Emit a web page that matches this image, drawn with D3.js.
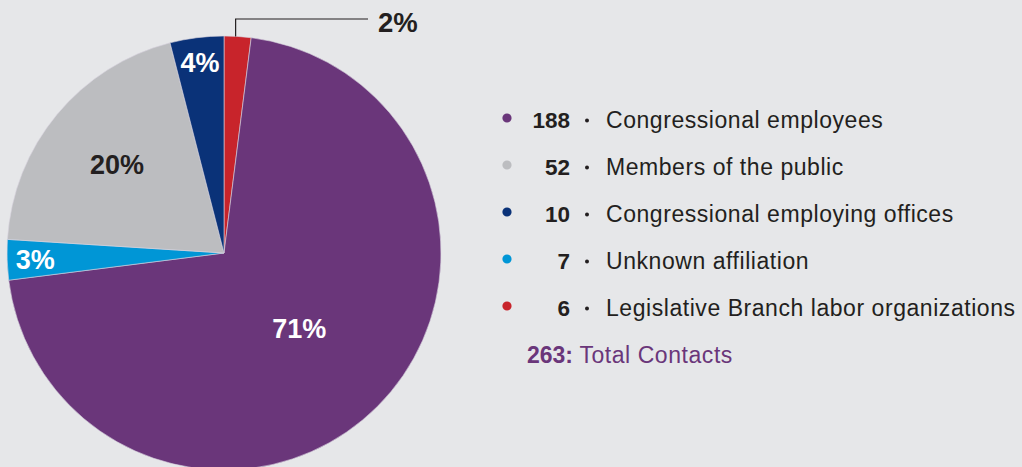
<!DOCTYPE html>
<html>
<head>
<meta charset="utf-8">
<script src="https://cdn.jsdelivr.net/npm/d3@7"></script>
<style>
  html, body { margin: 0; padding: 0; background: #e6e7e9; }
  svg { display: block; font-family: "Liberation Sans", Arial, sans-serif; }
</style>
</head>
<body>
<svg id="chart"></svg>
<script>
// legend order
const categories = [
  "Congressional employees",
  "Members of the public",
  "Congressional employing offices",
  "Unknown affiliation",
  "Legislative Branch labor organizations",
];
const values = [188, 52, 10, 7, 6];
// rounded shares as printed on the slices
const percents = [71, 20, 4, 3, 2];
const colors = ["#6a367a", "#bcbdc0", "#0a3278", "#0096d6", "#c8242b"];
// order of slices clockwise from 12 o'clock
const pieOrder = [4, 0, 3, 1, 2];
const totalLabel = "Total Contacts";

const width = 1022;
const height = 467;
const total = d3.sum(values);

const svg = d3.select("#chart").attr("width", width).attr("height", height);

const cx = 224, cy = 253, radius = 217;

const g = svg.append("g").attr("transform", `translate(${cx}, ${cy})`);

const infos = pieOrder.map((i) => ({
  idx: i,
  label: categories[i],
  pct: percents[i],
  color: colors[i],
}));

const pieGenerator = d3.pie().sort(null).value((d) => d.pct);
const arcGenerator = d3.arc().innerRadius(0).outerRadius(radius);
const arcs = pieGenerator(infos);

g.selectAll("path")
  .data(arcs)
  .enter()
  .append("path")
  .attr("d", arcGenerator)
  .style("fill", (d) => d.data.color)
  .style("stroke", "#d9d3df")
  .style("stroke-width", 0.6);

// how far out each percent label sits (fraction of radius), by legend index
const labelPos = { 0: 0.49, 1: 0.64, 2: 0.885, 3: 0.87 };

arcs.forEach((d) => {
  const mid = (d.startAngle + d.endAngle) / 2;
  if (labelPos[d.data.idx] !== undefined) {
    const r = radius * labelPos[d.data.idx];
    g.append("text")
      .attr("x", Math.sin(mid) * r)
      .attr("y", -Math.cos(mid) * r)
      .attr("dy", "0.36em")
      .attr("text-anchor", "middle")
      .style("font-size", "27px")
      .style("font-weight", "bold")
      .style("fill", d.data.idx === 1 ? "#231f20" : "#ffffff")
      .text(d.data.pct + "%");
  } else {
    // small slice: leader line to an outside label
    const x0 = Math.sin(mid) * radius - 2;
    const y0 = -Math.cos(mid) * radius;
    const yTop = -cy + 19;
    const xEnd = 368 - cx;
    g.append("path")
      .attr("d", `M${x0},${y0}V${yTop}H${xEnd}`)
      .style("fill", "none")
      .style("stroke", "#231f20")
      .style("stroke-width", 1.2);
    g.append("text")
      .attr("x", xEnd + 10)
      .attr("y", yTop + 13)
      .style("font-size", "27.5px")
      .style("font-weight", "bold")
      .style("fill", "#231f20")
      .text(d.data.pct + "%");
  }
});

// legend
const rowY = d3.scalePoint()
  .domain(d3.range(categories.length + 1))
  .range([128, 128 + 47 * categories.length]);

const legend = svg.append("g");
const rows = legend.selectAll("g.row")
  .data(categories.map((c, i) => ({ c, v: values[i], col: colors[i], i })))
  .enter()
  .append("g")
  .attr("class", "row")
  .attr("transform", (d) => `translate(0, ${rowY(d.i)})`);

rows.append("circle")
  .attr("cx", 507)
  .attr("cy", -10)
  .attr("r", 4.6)
  .style("fill", (d) => d.col);

rows.append("text")
  .attr("x", 570)
  .attr("text-anchor", "end")
  .style("font-size", "22.5px")
  .style("font-weight", "bold")
  .style("fill", "#231f20")
  .text((d) => d.v);

rows.append("circle")
  .attr("cx", 587)
  .attr("cy", -7.5)
  .attr("r", 2)
  .style("fill", "#231f20");

rows.append("text")
  .attr("x", 606)
  .style("font-size", "23px")
  .style("letter-spacing", "0.55px")
  .style("fill", "#231f20")
  .text((d) => d.c);

const tot = legend.append("text")
  .attr("x", 527)
  .attr("y", rowY(categories.length))
  .style("font-size", "23px")
  .style("fill", "#6a367a");
tot.append("tspan").style("font-weight", "bold").text(total + ": ");
tot.append("tspan").style("letter-spacing", "0.55px").text(totalLabel);
</script>
</body>
</html>
